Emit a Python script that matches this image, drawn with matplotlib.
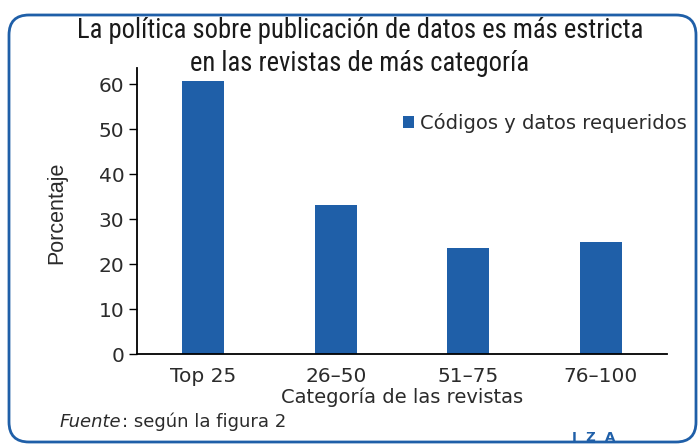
import matplotlib.pyplot as plt
from matplotlib.patches import FancyBboxPatch
import numpy as np

categorias = ['Top 25', '26–50', '51–75', '76–100']
valores = [60.7, 33.1, 23.6, 24.9]
serie = 'Códigos y datos requeridos'
yticks = [0, 10, 20, 30, 40, 50, 60]

azul = '#1f5fa8'
gris = '#2b2b2b'
estrecha = ['Roboto Condensed', 'Liberation Sans Narrow', 'Roboto', 'DejaVu Sans']
plt.rcParams['font.family'] = ['DejaVu Sans']

fig = plt.figure(figsize=(6.99, 4.44), dpi=100)
ax = fig.add_axes([137/699, 90/444, 530/699, 286/444])

x = np.arange(len(categorias))
ax.bar(x, valores, width=0.32, color=azul, label=serie)

ax.set_xlim(-0.5, 3.5)
ax.set_ylim(0, 63.6)
ax.set_yticks(yticks)
ax.set_xticks(x)
ax.set_xticklabels(categorias)
ax.tick_params(axis='x', length=0, pad=9, labelsize=14.5, labelcolor=gris)
ax.tick_params(axis='y', length=6, width=1, pad=3, labelsize=14.5, labelcolor=gris)
for s in ['top', 'right']:
    ax.spines[s].set_visible(False)
for s in ['left', 'bottom']:
    ax.spines[s].set_linewidth(1.3)
    ax.spines[s].set_color('black')

ax.set_xlabel('Categoría de las revistas', fontsize=14, color=gris)
ax.xaxis.set_label_coords(0.5, -43/286)
ax.xaxis.label.set_va('center')
ax.set_ylabel('Porcentaje', fontsize=15.5, color=gris,
              family=['Liberation Sans', 'DejaVu Sans'])
ax.yaxis.set_label_coords(-80/530, 141/286)
ax.yaxis.label.set_va('center')

leg = fig.legend(loc='center left', bbox_to_anchor=(395/699, 1 - 123/444),
                 frameon=False, fontsize=14, handlelength=0.6, handleheight=0.6,
                 handletextpad=0.3, labelcolor=gris, borderaxespad=0)

titulo = 'La política sobre publicación de datos es más estricta\nen las revistas de más categoría'
fig.text(360/699, 1 - 47/444, titulo, ha='center', va='center', fontsize=19.2,
         color='#1a1a1a', linespacing=1.3, family=estrecha)

t = fig.text(60/699, 1 - 422/444, 'Fuente', fontsize=13, style='italic',
             color=gris, va='center')
fig.canvas.draw()
bb = t.get_window_extent()
fig.text(bb.x1 / fig.bbox.width, 1 - 422/444, ': según la figura 2', fontsize=13,
         color=gris, va='center')

fig.text(594/699, 1 - 437/444, 'I  Z  A', fontsize=9.5, color=azul, ha='center',
         va='center', fontweight='bold')

marco = FancyBboxPatch((0.09, 0.02), 6.87, 4.27,
                       boxstyle='round,pad=0,rounding_size=0.2',
                       transform=fig.dpi_scale_trans, fill=False,
                       edgecolor=azul, linewidth=2)
fig.patches.append(marco)

fig.savefig('out.png', dpi=100)
